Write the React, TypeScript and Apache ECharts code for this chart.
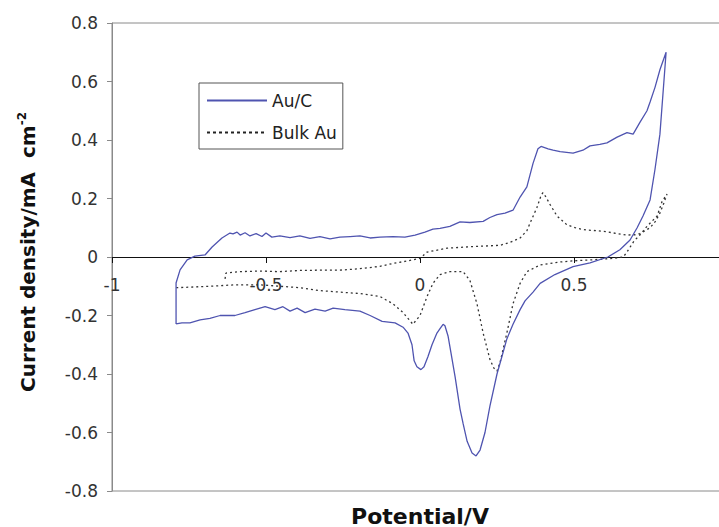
import React, { useEffect, useRef } from "react";
import * as echarts from "echarts";

// Au/C cyclic voltammogram (potential V, current density mA cm-2), in scan order
const auCPotential = [
  -0.792, -0.792, -0.792, -0.779, -0.756, -0.731, -0.698, -0.675, -0.643, -0.617,
  -0.607, -0.594, -0.584, -0.568, -0.552, -0.532, -0.513, -0.5, -0.481, -0.455,
  -0.422, -0.39, -0.357, -0.325, -0.292, -0.26, -0.227, -0.195, -0.162, -0.13,
  -0.088, -0.049, -0.016, 0.016, 0.042, 0.065, 0.097, 0.13, 0.162, 0.205,
  0.227, 0.25, 0.276, 0.302, 0.325, 0.347, 0.367, 0.383, 0.393, 0.416,
  0.432, 0.455, 0.497, 0.529, 0.552, 0.584, 0.607, 0.64, 0.672, 0.692,
  0.714, 0.737, 0.747, 0.763, 0.779, 0.799,
  0.789, 0.779, 0.763, 0.747, 0.724, 0.705, 0.682, 0.649, 0.61, 0.552,
  0.497, 0.438, 0.39, 0.367, 0.341, 0.325, 0.302, 0.282, 0.266, 0.25,
  0.227, 0.211, 0.195, 0.182, 0.169, 0.153, 0.14, 0.13, 0.114, 0.101,
  0.091, 0.081, 0.075, 0.065, 0.055, 0.039, 0.026, 0.013, 0.003, -0.01,
  -0.019, -0.026, -0.039, -0.055, -0.081, -0.123, -0.162, -0.195, -0.244, -0.282,
  -0.308, -0.341, -0.373, -0.399, -0.422, -0.445, -0.471, -0.503, -0.536, -0.568,
  -0.601, -0.649, -0.682, -0.714, -0.747, -0.773, -0.792,
];
const auCCurrent = [
  -0.229, -0.147, -0.089, -0.044, -0.01, 0.003, 0.007, 0.034, 0.065, 0.082,
  0.079, 0.085, 0.075, 0.083, 0.072, 0.08, 0.07, 0.082, 0.068, 0.072,
  0.066, 0.072, 0.064, 0.07, 0.062, 0.068, 0.07, 0.072, 0.065, 0.068,
  0.07, 0.068, 0.075, 0.085, 0.095, 0.098, 0.105, 0.12, 0.118, 0.122,
  0.135, 0.145, 0.15, 0.16, 0.205, 0.24, 0.32, 0.37, 0.378, 0.37,
  0.365, 0.36, 0.355, 0.365, 0.38, 0.385, 0.39, 0.41, 0.425, 0.42,
  0.46, 0.5, 0.53, 0.58, 0.64, 0.7,
  0.56, 0.42, 0.3, 0.195, 0.14, 0.1, 0.058, 0.025, 0.0, -0.02,
  -0.033, -0.06, -0.09, -0.12, -0.15, -0.18, -0.23, -0.28, -0.34, -0.4,
  -0.51, -0.6, -0.66, -0.68, -0.67, -0.63, -0.57, -0.52, -0.41, -0.33,
  -0.27, -0.235, -0.23, -0.245, -0.26, -0.3, -0.34, -0.375, -0.385, -0.375,
  -0.355, -0.3, -0.26, -0.24, -0.225, -0.22, -0.2, -0.185, -0.18, -0.175,
  -0.185, -0.178, -0.19, -0.175, -0.185, -0.17, -0.18, -0.17, -0.18, -0.19,
  -0.2, -0.2, -0.21, -0.215, -0.225, -0.225, -0.229,
];

// Bulk Au cyclic voltammogram, in scan order
const bulkPotential = [
  -0.633, -0.63, -0.584, -0.519, -0.455, -0.39, -0.325, -0.26, -0.195, -0.13,
  -0.088, -0.049, 0.0, 0.023, 0.088, 0.162, 0.26, 0.292, 0.325, 0.347,
  0.357, 0.38, 0.393, 0.399, 0.409, 0.422, 0.445, 0.477, 0.51, 0.542,
  0.575, 0.607, 0.64, 0.672, 0.698, 0.714, 0.731, 0.747, 0.763, 0.779,
  0.792, 0.802,
  0.786, 0.77, 0.737, 0.714, 0.695, 0.672, 0.66, 0.63, 0.584, 0.552,
  0.5, 0.455, 0.39, 0.347, 0.325, 0.302, 0.282, 0.26, 0.25, 0.24,
  0.227, 0.205, 0.185, 0.162, 0.14, 0.097, 0.065, 0.042, 0.023, 0.0,
  -0.023, -0.055, -0.088, -0.13, -0.195, -0.26, -0.325, -0.39, -0.455, -0.52,
  -0.6, -0.68, -0.792,
];
const bulkCurrent = [
  -0.075, -0.055, -0.05, -0.048, -0.05, -0.046, -0.045, -0.045, -0.04, -0.032,
  -0.022, -0.015, -0.005, 0.017, 0.03, 0.035, 0.04, 0.05, 0.065, 0.09,
  0.115, 0.17, 0.21, 0.22, 0.205, 0.18, 0.14, 0.11, 0.098, 0.092,
  0.09, 0.086, 0.08, 0.075, 0.076, 0.08, 0.09, 0.1, 0.12, 0.15,
  0.185, 0.215,
  0.19, 0.14, 0.105, 0.075, 0.055, 0.017, 0.0, -0.004, -0.008, -0.01,
  -0.013, -0.017, -0.027, -0.05, -0.09, -0.16, -0.26, -0.36, -0.39, -0.38,
  -0.35, -0.26, -0.16, -0.08, -0.05, -0.05, -0.06, -0.09, -0.135, -0.2,
  -0.23, -0.19, -0.16, -0.135, -0.125, -0.12, -0.115, -0.105, -0.1, -0.095,
  -0.095, -0.1, -0.105,
];

const seriesNames = ["Au/C", "Bulk Au"];
const xTitle = "Potential/V";
const yTitle = "Current density/mA  cm";
const yTitleSup = "-2";

const pair = (xs: number[], ys: number[]) => xs.map((x, i) => [x, ys[i]]);

export default function App() {
  const ref = useRef<HTMLDivElement>(null);
  useEffect(() => {
    if (!ref.current) return;
    const chart = echarts.init(ref.current, null, { renderer: "svg" });
    const font = "DejaVu Sans";
    chart.setOption({
      animation: false,
      backgroundColor: "#ffffff",
      grid: {
        show: true,
        left: 112,
        top: 23,
        width: 616,
        height: 468,
        outerBoundsMode: "none",
        containLabel: false,
        borderColor: "#8a8a8a",
        borderWidth: 1,
        backgroundColor: "transparent",
      },
      legend: {
        orient: "vertical",
        left: 199,
        top: 83,
        padding: [9, 6, 8, 7],
        itemWidth: 60,
        itemHeight: 14,
        itemGap: 15,
        borderColor: "#555",
        borderWidth: 1,
        backgroundColor: "#fff",
        textStyle: { fontFamily: font, fontSize: 17, color: "#222" },
        data: [
          { name: seriesNames[0], itemStyle: { opacity: 0 } },
          {
            name: seriesNames[1],
            itemStyle: { opacity: 0 },
            lineStyle: { width: 2, type: [3, 3], color: "#222" },
          },
        ],
      },
      xAxis: {
        type: "value",
        min: -1,
        max: 1,
        interval: 0.5,
        offset: -234,
        axisLine: { onZero: false, lineStyle: { color: "#111", width: 1 } },
        axisTick: { show: true, length: 6, lineStyle: { color: "#111" } },
        axisLabel: {
          margin: 19,
          fontFamily: font,
          fontSize: 17,
          color: "#333",
          showMinLabel: true,
          showMaxLabel: false,
          hideOverlap: false,
        },
        splitLine: { show: false },
      },
      yAxis: {
        type: "value",
        min: -0.8,
        max: 0.8,
        interval: 0.2,
        axisLine: { show: true, onZero: false, lineStyle: { color: "#8a8a8a", width: 1 } },
        axisTick: { show: true, length: 5, lineStyle: { color: "#8a8a8a" } },
        axisLabel: {
          margin: 14,
          fontFamily: font,
          fontSize: 17,
          color: "#333",
          formatter: (v: number) => String(Math.round(v * 10) / 10),
        },
        splitLine: { show: false },
      },
      graphic: [
        {
          type: "text",
          x: 420,
          y: 516,
          style: {
            text: xTitle,
            fontFamily: font,
            fontWeight: "bold",
            fontSize: 22,
            fill: "#111",
            align: "center",
            verticalAlign: "middle",
          },
        },
        {
          type: "text",
          x: 28,
          y: 252,
          rotation: Math.PI / 2,
          style: {
            text: "{a|" + yTitle + "}{b|" + yTitleSup + "}",
            align: "center",
            verticalAlign: "middle",
            rich: {
              a: { fontFamily: font, fontWeight: "bold", fontSize: 20, fill: "#111", lineHeight: 24 },
              b: { fontFamily: font, fontWeight: "bold", fontSize: 12, fill: "#111", verticalAlign: "top", lineHeight: 24 },
            },
          },
        },
      ],
      series: [
        {
          name: seriesNames[0],
          type: "line",
          data: pair(auCPotential, auCCurrent),
          showSymbol: false,
          symbol: "none",
          lineStyle: { color: "#4f54b0", width: 1.3 },
          itemStyle: { color: "#4f54b0" },
          z: 3,
        },
        {
          name: seriesNames[1],
          type: "line",
          data: pair(bulkPotential, bulkCurrent),
          showSymbol: false,
          symbol: "none",
          lineStyle: { color: "#333", width: 1.3, type: [2, 3] },
          itemStyle: { color: "#222" },
          z: 2,
        },
      ],
    });
    return () => chart.dispose();
  }, []);
  return (
    <div
      ref={ref}
      style={{ position: "fixed", left: 0, top: 0, width: 719, height: 527, background: "#fff" }}
    />
  );
}
